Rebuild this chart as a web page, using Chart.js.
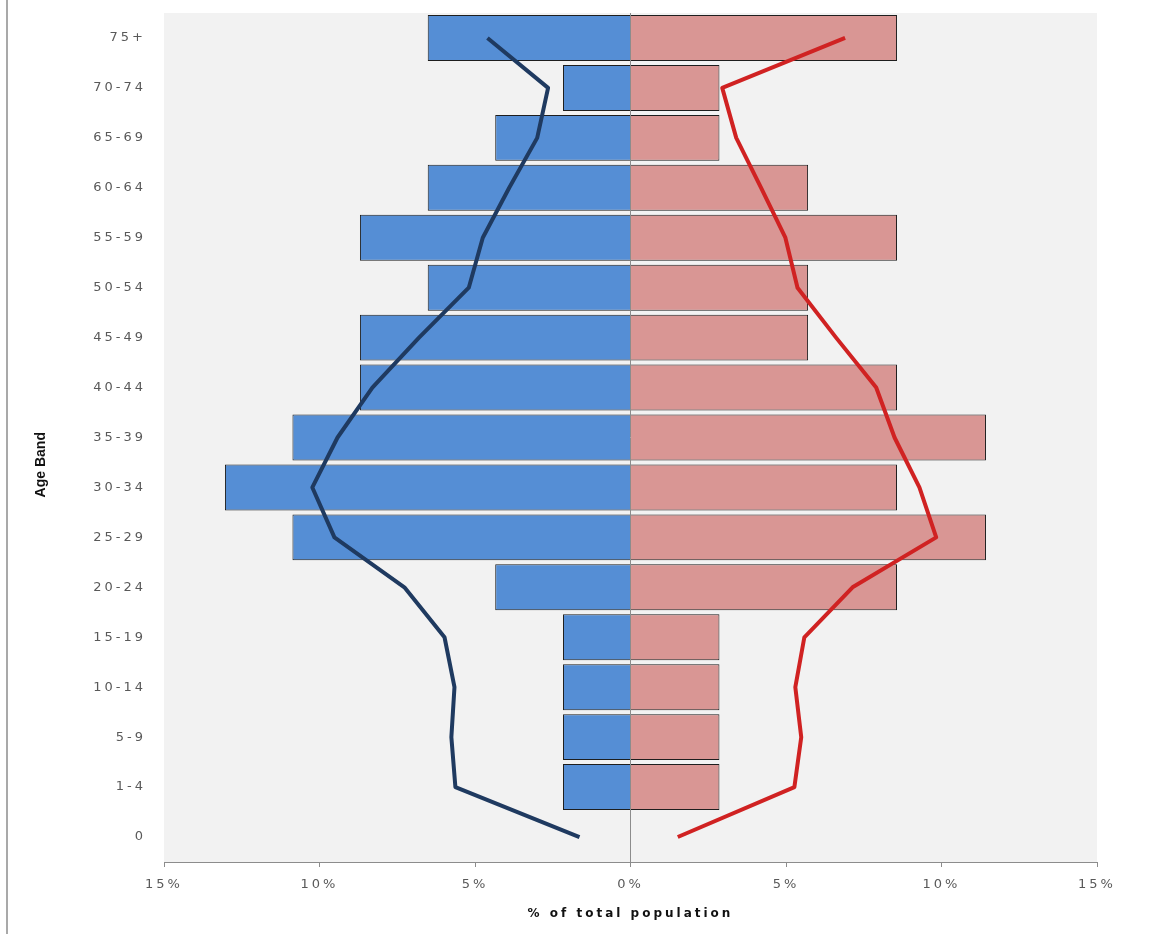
<!DOCTYPE html>
<html>
<head>
<meta charset="utf-8">
<title>Age Band pyramid</title>
<script src="https://cdn.jsdelivr.net/npm/chart.js@4.4.1/dist/chart.umd.min.js"></script>
<style>
  html, body { margin: 0; padding: 0; background: #ffffff; }
  #wrap { position: relative; width: 1155px; height: 934px; }
  #frame { position: absolute; left: 6px; top: 0; width: 2px; height: 934px; background: #a9a9a9; }
</style>
</head>
<body>
<div id="wrap">
  <canvas id="pyramid" width="1155" height="934"></canvas>
  <div id="frame"></div>
</div>
<script>
// Age bands, oldest at the top
const ageBands = ['75+', '70-74', '65-69', '60-64', '55-59', '50-54', '45-49', '40-44',
                  '35-39', '30-34', '25-29', '20-24', '15-19', '10-14', '5-9', '1-4', '0'];

// Local population, % of total (males drawn to the left, females to the right)
const maleShare   = [6.52, 2.17, 4.35, 6.52, 8.70, 6.52, 8.70, 8.70, 10.87, 13.04, 10.87, 4.35, 2.17, 2.17, 2.17, 2.17, 0];
const femaleShare = [8.57, 2.86, 2.86, 5.71, 8.57, 5.71, 5.71, 8.57, 11.43, 8.57, 11.43, 8.57, 2.86, 2.86, 2.86, 2.86, 0];

// Comparison population profile, % of total
const maleProfile   = [4.60, 2.65, 3.00, 3.90, 4.75, 5.20, 6.80, 8.30, 9.42, 10.23, 9.52, 7.27, 5.98, 5.66, 5.76, 5.63, 1.64];
const femaleProfile = [6.90, 2.95, 3.40, 4.20, 4.98, 5.37, 6.61, 7.90, 8.49, 9.29, 9.83, 7.14, 5.59, 5.30, 5.49, 5.27, 1.52];

// Axis ticks (percent; the negative side holds the male half)
const percentTicks = [-15, -10, -5, 0, 5, 10, 15];

// Grey plot area; tick labels and the x title get wide letter spacing
const plotArea = {
  id: 'plotArea',
  beforeDraw(chart) {
    const { ctx, chartArea: a } = chart;
    ctx.save();
    ctx.fillStyle = '#f2f2f2';
    ctx.fillRect(a.left, a.top, a.right - a.left, a.bottom - a.top);
    ctx.restore();
    ctx.letterSpacing = '0px';
  },
  afterDatasetsDraw(chart) {
    chart.ctx.letterSpacing = '3px';
  },
  afterDraw(chart) {
    chart.ctx.letterSpacing = '0px';
  }
};

const lineStyle = {
  type: 'line',
  indexAxis: 'y',
  borderWidth: 4,
  pointRadius: 0,
  pointHoverRadius: 0,
  fill: false,
  tension: 0,
  borderJoinStyle: 'round',
  order: 0
};

const barStyle = {
  type: 'bar',
  stack: 'population',
  borderColor: '#1e1e1e',
  borderWidth: 1,
  barPercentage: 0.92,
  categoryPercentage: 1,
  order: 1
};

new Chart(document.getElementById('pyramid'), {
  type: 'bar',
  data: {
    labels: ageBands,
    datasets: [
      Object.assign({}, lineStyle, {
        label: 'Males (profile)',
        stack: 'maleProfile',
        data: maleProfile.map(v => -v),
        borderColor: '#1f3a60'
      }),
      Object.assign({}, lineStyle, {
        label: 'Females (profile)',
        stack: 'femaleProfile',
        data: femaleProfile,
        borderColor: '#d02222'
      }),
      Object.assign({}, barStyle, {
        label: 'Males',
        data: maleShare.map(v => -v),
        backgroundColor: '#558ed5'
      }),
      Object.assign({}, barStyle, {
        label: 'Females',
        data: femaleShare,
        backgroundColor: '#d99694'
      })
    ]
  },
  options: {
    indexAxis: 'y',
    responsive: false,
    animation: false,
    events: [],
    layout: { padding: { top: 13, right: 58, bottom: 0, left: 0 } },
    plugins: {
      legend: { display: false },
      tooltip: { enabled: false }
    },
    scales: {
      x: {
        type: 'linear',
        position: 'bottom',
        stacked: true,
        min: -15,
        max: 15,
        afterBuildTicks(scale) {
          scale.ticks = percentTicks.map(v => ({ value: v }));
        },
        afterFit(scale) { scale.height = 72; },
        border: { display: true, color: '#8c8c8c', width: 1, z: 1 },
        grid: {
          color: c => (c.tick && c.tick.value === 0) ? '#8c8c8c' : 'rgba(0,0,0,0)',
          lineWidth: 1,
          tickLength: 5,
          tickColor: '#8c8c8c',
          z: 1
        },
        ticks: {
          callback: v => Math.abs(v) + '%',
          font: { family: "'DejaVu Sans'", size: 13 },
          color: '#595959',
          padding: 10,
          maxRotation: 0,
          autoSkip: false,
          z: 1
        },
        title: {
          display: true,
          text: '% of total population',
          font: { family: "'DejaVu Sans'", size: 12, weight: 'bold' },
          color: '#111111',
          padding: { top: 0, bottom: 13 }
        }
      },
      y: {
        type: 'category',
        position: 'left',
        stacked: true,
        afterFit(scale) { scale.width = 164; },
        border: { display: false },
        // hidden tick marks keep the labels clear of the plot edge
        grid: { display: false, drawTicks: true, tickLength: 18 },
        ticks: {
          font: { family: "'DejaVu Sans'", size: 13 },
          color: '#595959',
          padding: 0,
          autoSkip: false,
          z: 1
        },
        title: {
          display: true,
          // trailing spaces lower the rotated title a little below the axis middle
          text: 'Age Band' + ' '.repeat(14),
          font: { family: "'Liberation Sans'", size: 14, weight: 'bold' },
          color: '#111111',
          padding: { top: 33, bottom: 0 }
        }
      }
    }
  },
  plugins: [plotArea]
});
</script>
</body>
</html>
